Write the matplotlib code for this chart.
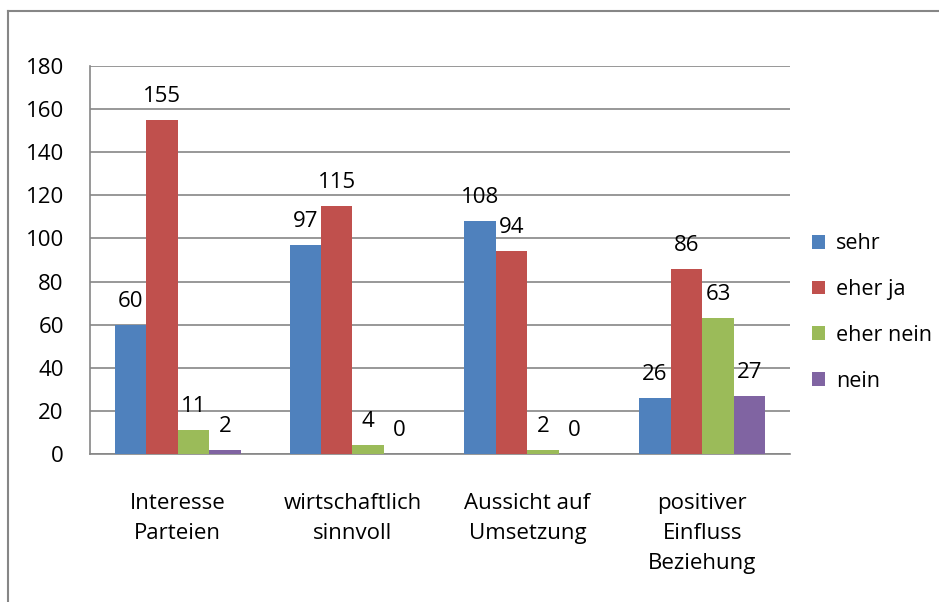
import numpy as np
from matplotlib import pyplot as plt
from matplotlib.lines import Line2D

categories = ["Interesse\nParteien", "wirtschaftlich\nsinnvoll", "Aussicht auf\nUmsetzung", "positiver\nEinfluss\nBeziehung"]
series_names = ["sehr", "eher ja", "eher nein", "nein"]
sehr = [60, 97, 108, 26]
eher_ja = [155, 115, 94, 86]
eher_nein = [11, 4, 2, 63]
nein = [2, 0, 0, 27]
colors = ["#4F81BD", "#C0504D", "#9BBB59", "#8064A2"]

plt.rcParams['font.family'] = ['Open Sans', 'DejaVu Sans']
fs = 16

fig = plt.figure(figsize=(9.39, 6.02), dpi=100)
ax = fig.add_axes([0.096, 0.2458, 0.745, 0.6446])

# outer chart frame (only left and top edges visible)
fig.add_artist(Line2D([0.0085, 0.0085], [0, 0.981], color="#868686", lw=1.5, transform=fig.transFigure))
fig.add_artist(Line2D([0.0085, 1.0], [0.981, 0.981], color="#868686", lw=1.5, transform=fig.transFigure))

x = np.arange(len(categories))
w = 0.18
data = [sehr, eher_ja, eher_nein, nein]
for i, (vals, name, c) in enumerate(zip(data, series_names, colors)):
    pos = x + (i - 1.5) * w
    bars = ax.bar(pos, vals, w, color=c, label=name, zorder=3)
    for p, v in zip(pos, vals):
        ax.text(p, v + 6, str(v), ha="center", va="bottom", fontsize=fs)

ax.set_xlim(-0.5, 3.5)
ax.set_ylim(0, 180)
ax.set_yticks(range(0, 181, 20))
ax.set_xticks(x)
ax.set_xticklabels(categories, fontsize=fs, linespacing=1.55)
ax.tick_params(axis="y", labelsize=fs, length=0, pad=19)
ax.tick_params(axis="x", length=0, pad=28)
ax.grid(axis="y", color="#868686", lw=1.2, zorder=0)
for s in ["top", "right"]:
    ax.spines[s].set_visible(False)
ax.spines["left"].set_color("#868686")
ax.spines["bottom"].set_color("#868686")
ax.spines["left"].set_linewidth(1.2)
ax.spines["bottom"].set_linewidth(1.2)

ax.legend(loc="center left", bbox_to_anchor=(1.02, 0.365), frameon=False, fontsize=15.5,
          handlelength=0.6, handleheight=0.6, labelspacing=1.15, handletextpad=0.5,
          borderaxespad=0)

fig.savefig("out.png", dpi=100)
